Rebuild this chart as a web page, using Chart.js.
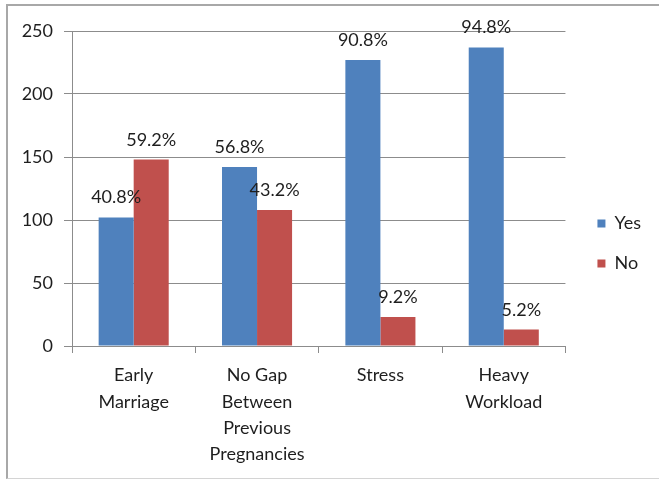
<!DOCTYPE html>
<html>
<head>
<meta charset="utf-8">
<script src="https://cdn.jsdelivr.net/npm/chart.js@4/dist/chart.umd.min.js"></script>
<style>
  html, body { margin: 0; padding: 0; background: #fff; overflow: hidden; }
  #frame {
    position: absolute; left: 6px; top: 4px; width: 700px; height: 472px;
    border-left: 2px solid #a8a8a8; border-top: 2px solid #a8a8a8; border-bottom: 1px solid #d4d4d4;
  }
  #wrap { position: absolute; left: 0; top: 0; width: 659px; height: 481px; }
</style>
</head>
<body>
<div id="frame"></div>
<div id="wrap"><canvas id="chart" width="659" height="481"></canvas></div>
<script>
// Risk factors, number of respondents answering Yes / No (out of 250)
const categories = [
  ['Early', 'Marriage'],
  ['No Gap', 'Between', 'Previous', 'Pregnancies'],
  'Stress',
  ['Heavy', 'Workload']
];
const yesCounts = [102, 142, 227, 237];
const noCounts  = [148, 108, 23, 13];
const respondents = 250;
const yTicks = [0, 50, 100, 150, 200, 250];

const FONT = 'Lato, "Open Sans", sans-serif';
const GRID = '#8c8c8c';
const TEXT = '#1e1e1e';

// Percentage labels above each bar, computed from the bar's own value
const percentLabels = {
  id: 'percentLabels',
  afterDatasetsDraw(chart) {
    const ctx = chart.ctx;
    ctx.save();
    ctx.font = '18px ' + FONT;
    ctx.fillStyle = TEXT;
    ctx.textAlign = 'center';
    ctx.textBaseline = 'alphabetic';
    chart.data.datasets.forEach((ds, di) => {
      const meta = chart.getDatasetMeta(di);
      meta.data.forEach((bar, i) => {
        const pct = (ds.data[i] / respondents * 100).toFixed(1) + '%';
        ctx.fillText(pct, bar.x, bar.y - 14);
      });
    });
    ctx.restore();
  }
};

// Invisible spacer scale: reserves room without drawing anything
const spacer = (position, size) => ({
  type: 'linear',
  position,
  display: true,
  grid: { display: false },
  border: { display: false },
  ticks: { display: false },
  afterFit(scale) {
    if (scale.isHorizontal()) scale.height = size; else scale.width = size;
  }
});

new Chart(document.getElementById('chart'), {
  type: 'bar',
  data: {
    labels: categories,
    datasets: [
      { label: 'Yes', data: yesCounts, backgroundColor: '#4F81BD' },
      { label: 'No',  data: noCounts,  backgroundColor: '#C0504D' }
    ]
  },
  options: {
    responsive: false,
    animation: false,
    devicePixelRatio: 1,
    layout: { padding: { top: 6, left: 0, right: 8, bottom: 0 } },
    datasets: { bar: { categoryPercentage: 0.568, barPercentage: 1.0 } },
    plugins: {
      tooltip: { enabled: false },
      legend: {
        position: 'right',
        maxWidth: 84,
        labels: {
          boxWidth: 8,
          boxHeight: 8,
          padding: 22,
          color: TEXT,
          font: { family: FONT, size: 18 }
        }
      }
    },
    scales: {
      x: {
        grid: { display: true, drawOnChartArea: false, color: GRID, tickLength: 7, offset: true },
        border: { display: true, color: GRID },
        ticks: {
          color: TEXT,
          padding: 9,
          maxRotation: 0,
          autoSkip: false,
          font: { family: FONT, size: 18, lineHeight: 1.47 }
        },
        afterFit(scale) { scale.height = 135; }
      },
      y: {
        min: 0,
        max: 250,
        afterBuildTicks(scale) { scale.ticks = yTicks.map(v => ({ value: v })); },
        grid: { color: GRID, tickLength: 8 },
        border: { display: true, color: GRID },
        ticks: { color: TEXT, padding: 11, font: { family: FONT, size: 18 } },
        afterFit(scale) { scale.width = 72; }
      },
      gapRight: spacer('right', 10),
      gapTop: spacer('top', 25)
    }
  },
  plugins: [percentLabels]
});
</script>
</body>
</html>
